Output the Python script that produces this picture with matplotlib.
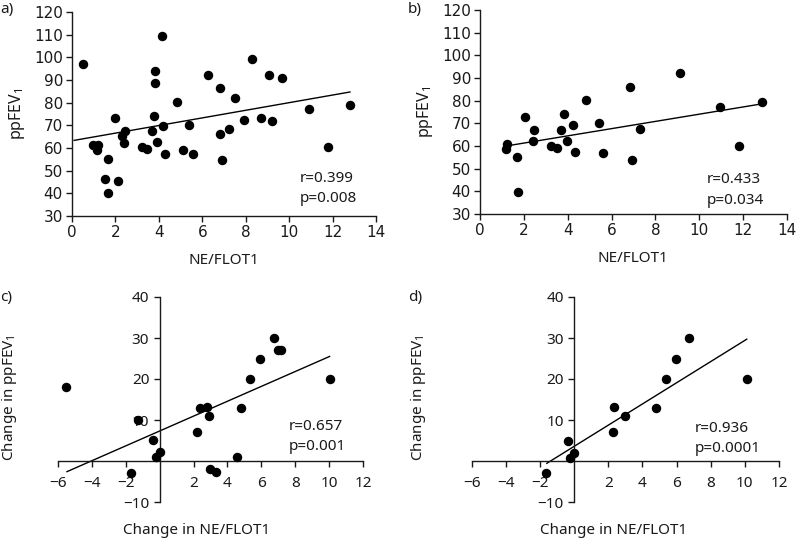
import matplotlib
matplotlib.use("Agg")
import matplotlib.pyplot as plt
import numpy as np

W, H = 797, 544

# ---------------- data ----------------
a_x = [0.52, 0.98, 1.18, 1.17, 1.67, 1.54, 1.64, 2.0, 2.12, 2.3, 2.38, 2.44, 3.24, 3.44,
       3.68, 3.79, 3.84, 3.84, 3.9, 4.13, 4.19, 4.28, 4.85, 5.11, 5.37, 5.56, 6.28, 6.82,
       6.83, 6.89, 7.23, 7.51, 7.94, 8.31, 8.69, 9.07, 9.21, 9.66, 10.9, 11.77, 12.8]
a_y = [97.2, 61.4, 61.4, 59.3, 55.0, 46.4, 40.2, 73.3, 45.5, 65.4, 62.3, 67.4, 60.5, 59.5,
       67.4, 74.2, 94.1, 88.5, 62.6, 109.2, 69.6, 57.5, 80.1, 59.3, 70.2, 57.5, 92.0, 86.3,
       66.2, 54.5, 68.3, 82.1, 72.3, 99.1, 73.2, 92.2, 72.1, 91.1, 77.1, 60.3, 79.1]
a_fit = dict(intercept=63.2, slope=1.68, x0=0.1, x1=12.8)

b_x = [1.18, 1.23, 1.70, 1.72, 2.07, 2.41, 2.47, 3.25, 3.49, 3.70, 3.84, 3.96, 4.22, 4.34,
       4.84, 5.42, 5.60, 6.82, 6.95, 7.29, 9.11, 10.96, 11.80, 12.86]
b_y = [58.8, 61.0, 55.1, 39.7, 72.6, 62.2, 67.1, 60.1, 58.9, 67.0, 74.0, 62.2, 69.2, 57.2,
       80.2, 70.1, 56.9, 85.9, 53.8, 67.7, 92.3, 77.1, 59.8, 79.3]
b_fit = dict(intercept=58.1, slope=1.594, x0=1.29, x1=12.83)

c_x = [-5.53, -1.28, -1.67, -0.39, -0.22, 0.02, 2.22, 2.36, 2.77, 2.93, 2.95, 3.34, 4.56,
       4.78, 5.35, 5.92, 6.73, 7.0, 7.18, 10.07]
c_y = [18.1, 10.0, -2.85, 5.2, 1.06, 2.2, 7.15, 13.0, 13.1, 11.0, -1.9, -2.8, 1.06, 13.0,
       20.1, 25.0, 29.9, 27.0, 27.0, 20.0]
c_fit = dict(intercept=7.32, slope=1.813, x0=-5.47, x1=10.03)

d_x = [-1.66, -0.37, -0.23, 0.0, 2.3, 2.36, 2.99, 4.78, 5.37, 5.94, 6.74, 10.11]
d_y = [-2.85, 4.9, 0.8, 1.9, 7.0, 13.2, 11.0, 13.0, 19.9, 25.0, 30.1, 19.9]
d_fit = dict(intercept=3.57, slope=2.585, x0=-1.6, x1=10.11)

top_xticks = [0, 2, 4, 6, 8, 10, 12, 14]
top_yticks = [30, 40, 50, 60, 70, 80, 90, 100, 110, 120]
bot_xticks = [-6, -4, -2, 2, 4, 6, 8, 10, 12]
bot_yticks = [-10, 10, 20, 30, 40]

stats = {"a": ("r=0.399", "p=0.008"), "b": ("r=0.433", "p=0.034"),
         "c": ("r=0.657", "p=0.001"), "d": ("r=0.936", "p=0.0001")}

# ---------------- style ----------------
SANS = ["Noto Sans", "DejaVu Sans"]
TICKF = ["DejaVu Sans"]
INK = "#1a1a1a"
plt.rcParams["axes.unicode_minus"] = True

fig = plt.figure(figsize=(W / 100, H / 100), dpi=100)


def px_axes(l, r, t, b):
    return fig.add_axes([l / W, 1 - b / H, (r - l) / W, (b - t) / H])


def ftext(x, y, s, **kw):
    kw.setdefault("family", SANS)
    kw.setdefault("color", INK)
    fig.text(x / W, 1 - y / H, s, **kw)


def draw(ax, xs, ys, fit):
    ax.plot(xs, ys, "o", color="black", ms=5.8, clip_on=False, zorder=3)
    lx = np.array([fit["x0"], fit["x1"]])
    ax.plot(lx, fit["intercept"] + fit["slope"] * lx, color="black", lw=1.0,
            clip_on=False, zorder=2)


def style_top(ax):
    for s in ("top", "right"):
        ax.spines[s].set_visible(False)
    for s in ("left", "bottom"):
        ax.spines[s].set_color(INK)
        ax.spines[s].set_linewidth(1.0)
    ax.set_xlim(0, 14)
    ax.set_ylim(30, 120)
    ax.set_xticks(top_xticks)
    ax.set_yticks(top_yticks)
    ax.tick_params(direction="out", length=4, width=1.0, color=INK, labelcolor=INK,
                   labelsize=11, pad=2.5)
    for lab in ax.get_xticklabels() + ax.get_yticklabels():
        lab.set_family(TICKF)


def style_bot(ax):
    for s in ("top", "right"):
        ax.spines[s].set_visible(False)
    ax.spines["left"].set_position(("data", 0))
    ax.spines["bottom"].set_position(("data", 0))
    for s in ("left", "bottom"):
        ax.spines[s].set_color(INK)
        ax.spines[s].set_linewidth(1.0)
    ax.set_xlim(-6, 12)
    ax.set_ylim(-10, 40)
    ax.set_xticks(bot_xticks)
    ax.set_yticks(bot_yticks)
    ax.tick_params(direction="out", length=4, width=1.0, color=INK, labelcolor=INK,
                   labelsize=11)
    ax.tick_params(axis="x", pad=7)
    ax.tick_params(axis="y", pad=3.5)
    for lab in ax.get_xticklabels() + ax.get_yticklabels():
        lab.set_family(SANS)


ax_a = px_axes(72, 376, 12, 216)
ax_b = px_axes(480, 787, 10, 214)
ax_c = px_axes(58, 363, 297, 502)
ax_d = px_axes(471.7, 779, 297, 502)

draw(ax_a, a_x, a_y, a_fit)
draw(ax_b, b_x, b_y, b_fit)
draw(ax_c, c_x, c_y, c_fit)
draw(ax_d, d_x, d_y, d_fit)
style_top(ax_a)
style_top(ax_b)
style_bot(ax_c)
style_bot(ax_d)

ylab_top = r"ppFEV$_\mathregular{1}$"
ylab_bot = r"Change in ppFEV$_\mathregular{1}$"
ftext(17, 114, ylab_top, rotation=90, ha="center", va="center", fontsize=11.5)
ftext(425, 112, ylab_top, rotation=90, ha="center", va="center", fontsize=11.5)
ftext(224, 260, "NE/FLOT1", ha="center", va="center", fontsize=11)
ftext(633, 258, "NE/FLOT1", ha="center", va="center", fontsize=11)
ftext(10, 398, ylab_bot, rotation=90, ha="center", va="center", fontsize=11)
ftext(418, 398, ylab_bot, rotation=90, ha="center", va="center", fontsize=11)
ftext(197, 530, "Change in NE/FLOT1", ha="center", va="center", fontsize=11)
ftext(614, 530, "Change in NE/FLOT1", ha="center", va="center", fontsize=11)

ftext(0, 10, "a)", ha="left", va="center", fontsize=11)
ftext(408, 10, "b)", ha="left", va="center", fontsize=11)
ftext(0, 297, "c)", ha="left", va="center", fontsize=11)
ftext(408, 297, "d)", ha="left", va="center", fontsize=11)

pos = {"a": (300, 178), "b": (707, 180), "c": (289, 427), "d": (695, 428)}
for k, (x, y) in pos.items():
    r, p = stats[k]
    ftext(x, y, r, ha="left", va="center", fontsize=11)
    ftext(x, y + 20, p, ha="left", va="center", fontsize=11)

fig.savefig("out.png", dpi=100)
